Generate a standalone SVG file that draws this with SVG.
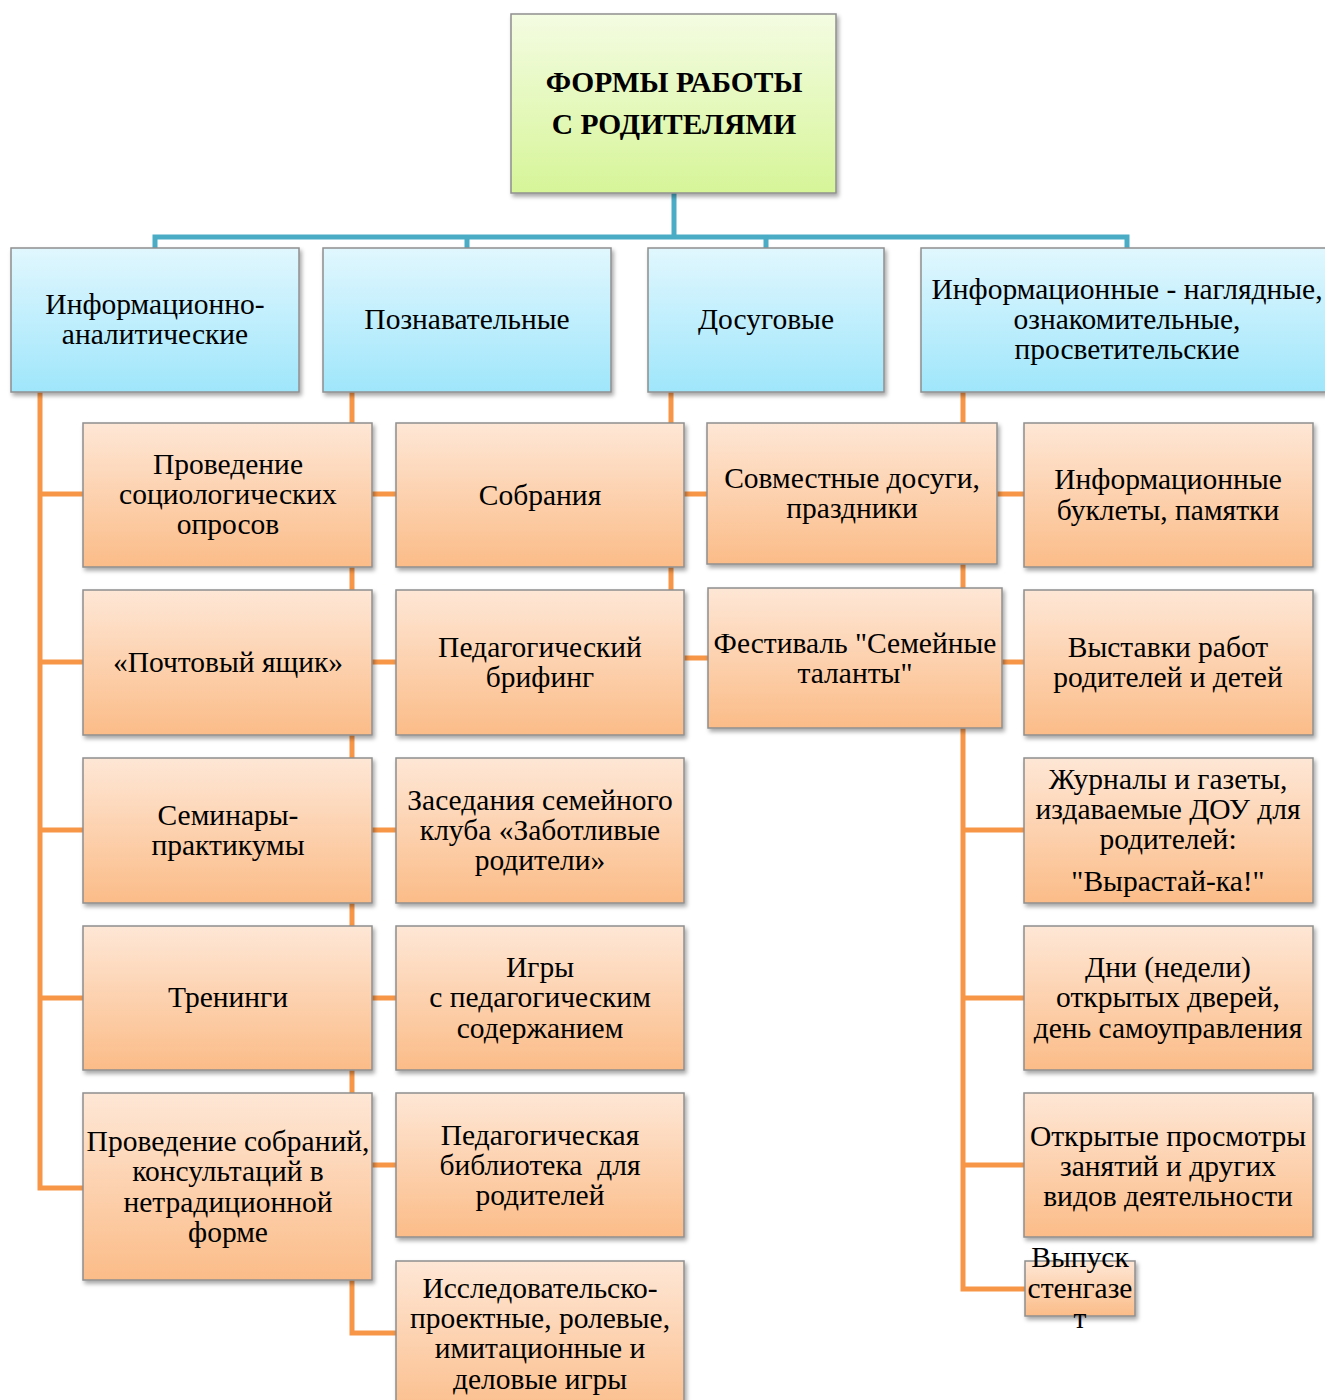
<svg xmlns="http://www.w3.org/2000/svg" width="1325" height="1400" viewBox="0 0 1325 1400">
<defs>
<linearGradient id="gPeach" x1="0" y1="0" x2="0" y2="1">
<stop offset="0" stop-color="#fee7d6"/>
<stop offset="1" stop-color="#fbbc88"/>
</linearGradient>
<linearGradient id="gCyan" x1="0" y1="0" x2="0" y2="1">
<stop offset="0" stop-color="#e1f7fe"/>
<stop offset="1" stop-color="#9fe6fb"/>
</linearGradient>
<linearGradient id="gGreen" x1="0" y1="0" x2="0" y2="1">
<stop offset="0" stop-color="#f4fce2"/>
<stop offset="1" stop-color="#d6f598"/>
</linearGradient>
<filter id="sh" x="-10%" y="-10%" width="120%" height="130%">
<feDropShadow dx="2" dy="3" stdDeviation="2" flood-color="#000" flood-opacity="0.35"/>
</filter>
</defs>
<style>
rect.box{stroke:#8f8f8f;stroke-width:1.5;filter:url(#sh)}
.peach{fill:url(#gPeach)}
.cyan{fill:url(#gCyan)}
.green{fill:url(#gGreen)}
text{font-family:"Liberation Serif","Times New Roman",serif;font-size:29.5px;fill:#000;text-anchor:middle}
text.title{font-weight:bold}
.blue{fill:none;stroke:#4bacc6;stroke-width:5}
.orange{fill:none;stroke:#f79646;stroke-width:5}
</style>
<rect width="1325" height="1400" fill="#fff"/>
<g id="connectors">
<path class="blue" d="M674 193V237M155 249V237H1127V249M467 237V249M766 237V249"/>
<path class="orange" d="M40 392V1188H83M40 494H83M40 662H83M40 830H83M40 998H83"/>
<path class="orange" d="M352 392V1333H396M352 494H396M352 662H396M352 830H396M352 998H396M352 1165H396"/>
<path class="orange" d="M671 392V658H708M671 494H707"/>
<path class="orange" d="M963 392V1289H1025M963 494H1024M963 662H1024M963 830H1024M963 998H1024M963 1165H1024"/>
</g>
<g id="root">
<rect class="box green" x="511" y="14" width="325" height="179"/>
<text class="title" x="674" y="92">ФОРМЫ РАБОТЫ</text>
<text class="title" x="674" y="134">С РОДИТЕЛЯМИ</text>
</g>
<g id="h1">
<rect class="box cyan" x="11" y="248" width="288" height="144"/>
<text x="155" y="314">Информационно-</text>
<text x="155" y="344">аналитические</text>
</g>
<g id="h2">
<rect class="box cyan" x="323" y="248" width="288" height="144"/>
<text x="467" y="329">Познавательные</text>
</g>
<g id="h3">
<rect class="box cyan" x="648" y="248" width="236" height="144"/>
<text x="766" y="329">Досуговые</text>
</g>
<g id="h4">
<rect class="box cyan" x="921" y="248" width="420" height="144"/>
<text x="1127" y="299">Информационные - наглядные,</text>
<text x="1127" y="329">ознакомительные,</text>
<text x="1127" y="359">просветительские</text>
</g>
<g id="a1">
<rect class="box peach" x="83" y="423" width="289" height="144"/>
<text x="228" y="474">Проведение</text>
<text x="228" y="504">социологических</text>
<text x="228" y="534">опросов</text>
</g>
<g id="a2">
<rect class="box peach" x="83" y="590" width="289" height="145"/>
<text x="228" y="672">«Почтовый ящик»</text>
</g>
<g id="a3">
<rect class="box peach" x="83" y="758" width="289" height="145"/>
<text x="228" y="825">Семинары-</text>
<text x="228" y="855">практикумы</text>
</g>
<g id="a4">
<rect class="box peach" x="83" y="926" width="289" height="144"/>
<text x="228" y="1007">Тренинги</text>
</g>
<g id="a5">
<rect class="box peach" x="83" y="1093" width="289" height="187"/>
<text x="228" y="1151">Проведение собраний,</text>
<text x="228" y="1181">консультаций в</text>
<text x="228" y="1212">нетрадиционной</text>
<text x="228" y="1242">форме</text>
</g>
<g id="b1">
<rect class="box peach" x="396" y="423" width="288" height="144"/>
<text x="540" y="505">Собрания</text>
</g>
<g id="b2">
<rect class="box peach" x="396" y="590" width="288" height="145"/>
<text x="540" y="657">Педагогический</text>
<text x="540" y="687">брифинг</text>
</g>
<g id="b3">
<rect class="box peach" x="396" y="758" width="288" height="145"/>
<text x="540" y="810">Заседания семейного</text>
<text x="540" y="840">клуба «Заботливые</text>
<text x="540" y="870">родители»</text>
</g>
<g id="b4">
<rect class="box peach" x="396" y="926" width="288" height="144"/>
<text x="540" y="977">Игры</text>
<text x="540" y="1007">с педагогическим</text>
<text x="540" y="1038">содержанием</text>
</g>
<g id="b5">
<rect class="box peach" x="396" y="1093" width="288" height="144"/>
<text x="540" y="1145">Педагогическая</text>
<text x="540" y="1175" xml:space="preserve">библиотека  для</text>
<text x="540" y="1205">родителей</text>
</g>
<g id="b6">
<rect class="box peach" x="396" y="1261" width="288" height="160"/>
<text x="540" y="1298">Исследовательско-</text>
<text x="540" y="1328">проектные, ролевые,</text>
<text x="540" y="1358">имитационные и</text>
<text x="540" y="1389">деловые игры</text>
</g>
<g id="c1">
<rect class="box peach" x="707" y="423" width="290" height="141"/>
<text x="852" y="488">Совместные досуги,</text>
<text x="852" y="518">праздники</text>
</g>
<g id="c2">
<rect class="box peach" x="708" y="588" width="294" height="140"/>
<text x="855" y="653">Фестиваль "Семейные</text>
<text x="855" y="683">таланты"</text>
</g>
<g id="d1">
<rect class="box peach" x="1024" y="423" width="289" height="144"/>
<text x="1168" y="489">Информационные</text>
<text x="1168" y="520">буклеты, памятки</text>
</g>
<g id="d2">
<rect class="box peach" x="1024" y="590" width="289" height="145"/>
<text x="1168" y="657">Выставки работ</text>
<text x="1168" y="687">родителей и детей</text>
</g>
<g id="d3">
<rect class="box peach" x="1024" y="758" width="289" height="145"/>
<text x="1168" y="789">Журналы и газеты,</text>
<text x="1168" y="819">издаваемые ДОУ для</text>
<text x="1168" y="849">родителей:</text>
<text x="1168" y="891">"Вырастай-ка!"</text>
</g>
<g id="d4">
<rect class="box peach" x="1024" y="926" width="289" height="144"/>
<text x="1168" y="977">Дни (недели)</text>
<text x="1168" y="1007">открытых дверей,</text>
<text x="1168" y="1038">день самоуправления</text>
</g>
<g id="d5">
<rect class="box peach" x="1024" y="1093" width="289" height="144"/>
<text x="1168" y="1146">Открытые просмотры</text>
<text x="1168" y="1176">занятий и других</text>
<text x="1168" y="1206">видов деятельности</text>
</g>
<g id="d6">
<rect class="box peach" x="1025" y="1261" width="110" height="55"/>
<text x="1080" y="1267">Выпуск</text>
<text x="1080" y="1298">стенгазе</text>
<text x="1080" y="1328">т</text>
</g>
</svg>
